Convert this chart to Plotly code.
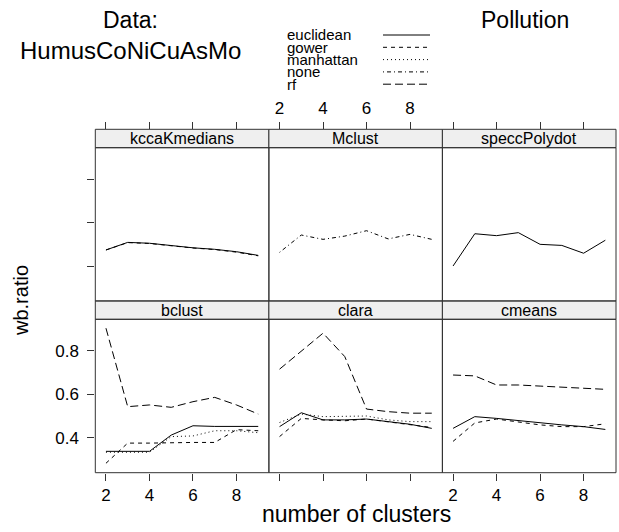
import plotly.graph_objects as go

W, H = 619, 532
FONT = "Liberation Sans"

# ---- data ----
ks = [2, 3, 4, 5, 6, 7, 8, 9]
panel_names = ["kccaKmedians", "Mclust", "speccPolydot", "bclust", "clara", "cmeans"]
methods = ["euclidean", "gower", "manhattan", "none", "rf"]
x_ticks = [2, 4, 6, 8]
y_ticks = [0.4, 0.6, 0.8]

kcca_euclidean = [0.474, 0.509, 0.505, 0.494, 0.484, 0.477, 0.466, 0.449]
kcca_gower = [0.474, 0.508, 0.504, 0.492, 0.483, 0.476, 0.464, 0.447]
mclust_none = [0.463, 0.543, 0.523, 0.538, 0.563, 0.525, 0.546, 0.523]
specc_euclidean = [0.400, 0.549, 0.540, 0.554, 0.500, 0.495, 0.459, 0.519]
bclust_euclidean = [0.337, 0.337, 0.337, 0.412, 0.455, 0.452, 0.452, 0.452]
bclust_gower = [0.282, 0.375, 0.375, 0.378, 0.378, 0.378, 0.437, 0.432]
bclust_manhattan = [0.333, 0.333, 0.333, 0.405, 0.408, 0.432, 0.432, 0.423]
bclust_rf = [0.905, 0.543, 0.551, 0.540, 0.566, 0.586, 0.551, 0.509]
clara_euclidean = [0.451, 0.515, 0.482, 0.482, 0.486, 0.474, 0.462, 0.443]
clara_gower = [0.405, 0.489, 0.482, 0.478, 0.486, 0.474, 0.462, 0.447]
clara_manhattan = [0.470, 0.509, 0.497, 0.497, 0.500, 0.482, 0.474, 0.474]
clara_rf = [0.716, 0.797, 0.882, 0.774, 0.532, 0.520, 0.513, 0.513]
cmeans_euclidean = [0.443, 0.497, 0.489, 0.478, 0.467, 0.459, 0.451, 0.438]
cmeans_gower = [0.383, 0.468, 0.486, 0.471, 0.459, 0.451, 0.451, 0.464]
cmeans_rf = [0.689, 0.685, 0.643, 0.643, 0.638, 0.633, 0.627, 0.623]

series = [
    (0, "euclidean", kcca_euclidean), (0, "gower", kcca_gower),
    (1, "none", mclust_none),
    (2, "euclidean", specc_euclidean),
    (3, "euclidean", bclust_euclidean), (3, "gower", bclust_gower),
    (3, "manhattan", bclust_manhattan), (3, "rf", bclust_rf),
    (4, "euclidean", clara_euclidean), (4, "gower", clara_gower),
    (4, "manhattan", clara_manhattan), (4, "rf", clara_rf),
    (5, "euclidean", cmeans_euclidean), (5, "gower", cmeans_gower),
    (5, "rf", cmeans_rf),
]

dash = {"euclidean": "solid", "gower": "4px,4px", "manhattan": "1px,3px",
        "none": "1px,3px,4px,3px", "rf": "8px,4px"}

# ---- geometry (pixels) ----
cols = [(95.3, 268.9), (268.9, 442.4), (442.4, 616.0)]
rows = [(147.7, 301.0), (319.3, 472.7)]  # plot regions (top, bottom) in px
strip_h = 18.4
xr = [1.51, 9.49]
yr = [0.2385, 0.946]


def px(x):
    return x / W


def py(y):
    return 1 - y / H


fig = go.Figure()
for p, m, vals in series:
    n = p + 1
    fig.add_trace(go.Scatter(
        x=ks, y=vals, mode="lines", xaxis=f"x{n}", yaxis=f"y{n}",
        line=dict(color="black", width=1, dash=dash[m]),
        showlegend=False, hoverinfo="skip"))

layout = dict(width=W, height=H, margin=dict(l=0, r=0, t=0, b=0),
              plot_bgcolor="white", paper_bgcolor="white",
              font=dict(family=FONT, color="black"), showlegend=False)
shapes = []
annotations = []
tick_font = dict(family=FONT, size=17, color="black")
for i in range(6):
    r, c = divmod(i, 3)
    n = i + 1
    x0, x1 = cols[c]
    y0, y1 = rows[r]
    xa = dict(domain=[px(x0), px(x1)], range=xr, tickvals=x_ticks,
              ticks="outside", ticklen=7, tickcolor="#333333", tickwidth=1,
              showgrid=False, zeroline=False, showline=False, tickfont=tick_font)
    if r == 0:
        xa.update(anchor="free", position=py(y0 - strip_h), side="top",
                  showticklabels=(c == 1), ticklabelstandoff=2)
    else:
        xa.update(anchor=f"y{n}", side="bottom", showticklabels=(c != 1),
                  ticklabelstandoff=0)
    ya = dict(domain=[py(y1), py(y0)], range=yr, anchor=f"x{n}",
              showgrid=False, zeroline=False, showline=False, tickfont=tick_font)
    if c == 0:
        ya.update(tickvals=y_ticks, ticks="outside", ticklen=7,
                  tickcolor="#333333", tickwidth=1, showticklabels=(r == 1),
                  ticklabelstandoff=5)
    else:
        ya.update(showticklabels=False, ticks="")
    layout[f"xaxis{n}" if n > 1 else "xaxis"] = xa
    layout[f"yaxis{n}" if n > 1 else "yaxis"] = ya
    # strip
    shapes.append(dict(type="rect", xref="paper", yref="paper",
                       x0=px(x0), x1=px(x1), y0=py(y0), y1=py(y0 - strip_h),
                       fillcolor="#efefef", line=dict(color="#333333", width=1),
                       layer="below"))
    # panel border
    shapes.append(dict(type="rect", xref="paper", yref="paper",
                       x0=px(x0), x1=px(x1), y0=py(y1), y1=py(y0),
                       line=dict(color="#333333", width=1), layer="above"))
    annotations.append(dict(text=panel_names[i], xref="paper", yref="paper",
                            x=px((x0 + x1) / 2), y=py(y0 - strip_h / 2),
                            showarrow=False, xanchor="center", yanchor="middle",
                            font=dict(family=FONT, size=16, color="black")))


def label(text, x, y, size, **kw):
    d = dict(text=text, xref="paper", yref="paper", x=px(x), y=py(y),
             showarrow=False, xanchor="center", yanchor="middle",
             font=dict(family=FONT, size=size, color="black"))
    d.update(kw)
    annotations.append(d)


# axis titles
label("number of clusters", 356, 514, 23)
label("wb.ratio", 21, 301, 20, textangle=-90)
# titles
label("Data:", 130, 20, 23)
label("HumusCoNiCuAsMo", 130, 50, 24)
label("Pollution", 525, 20, 23)
# legend
leg_y = [35, 47.3, 59.6, 71.9, 84.2]
for m, yy in zip(methods, leg_y):
    label(m, 285, yy, 15, xanchor="left")
    shapes.append(dict(type="line", xref="paper", yref="paper",
                       x0=px(383), x1=px(430), y0=py(yy), y1=py(yy),
                       line=dict(color="black", width=1, dash=dash[m])))

layout["shapes"] = shapes
layout["annotations"] = annotations
fig.update_layout(**layout)
fig.write_html("out.html", config={"displayModeBar": False},
               post_script="document.body.style.margin='0px';"
                           "document.body.style.overflow='hidden';")
